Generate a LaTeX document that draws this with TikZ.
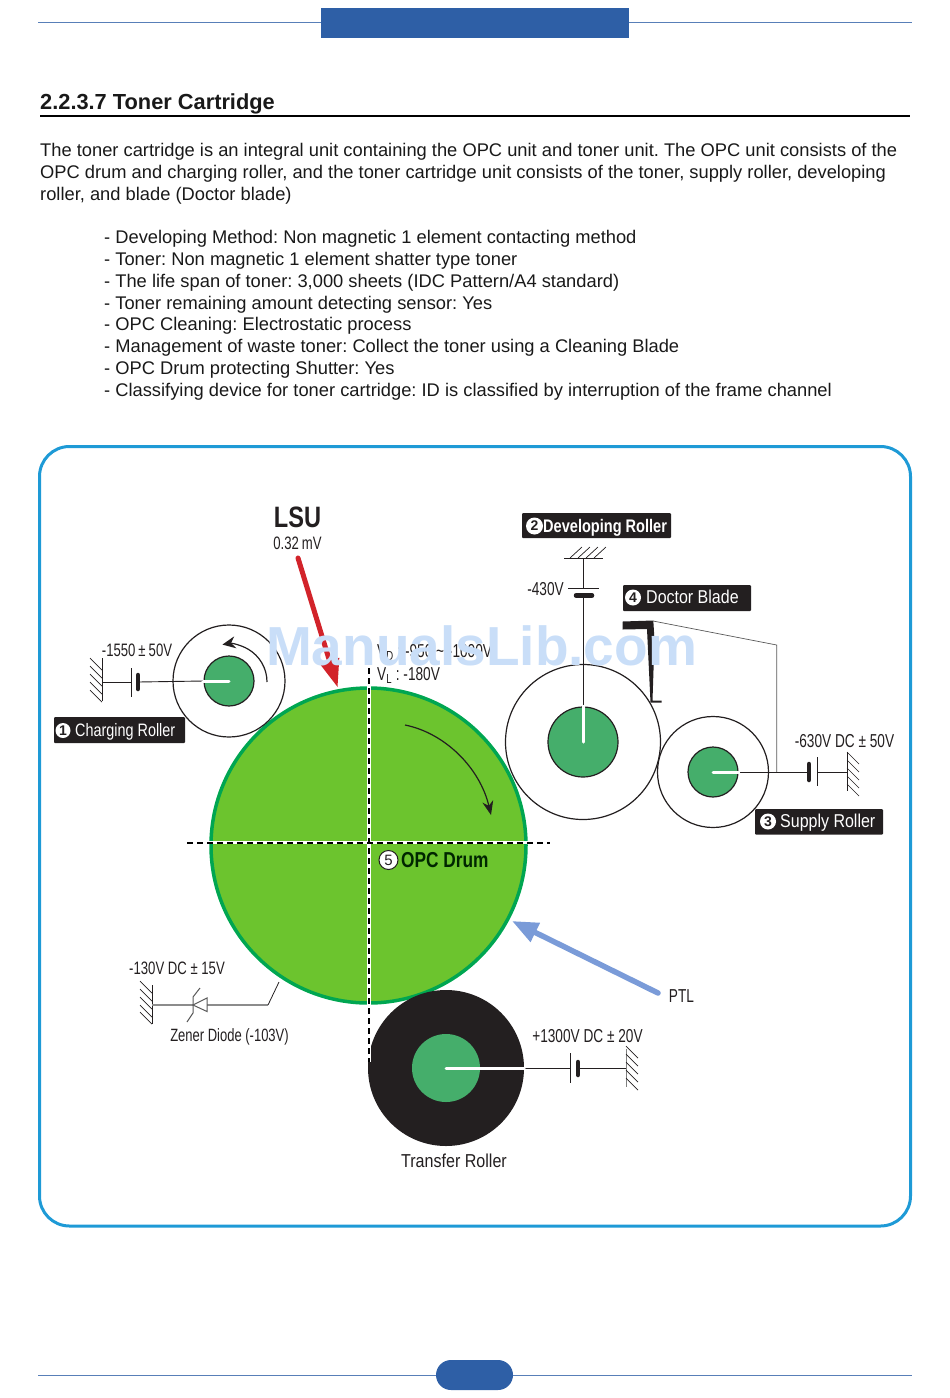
\documentclass[tikz,border=0pt]{standalone}
\usepackage{fontspec}
\setmainfont{Liberation Sans}
\newfontfamily\cond[FakeStretch=0.8]{Liberation Sans}
\newfontfamily\condb[FakeStretch=0.86]{Liberation Sans}
\newfontfamily\condn[FakeStretch=0.73]{Liberation Sans}
\usetikzlibrary{arrows.meta}
\definecolor{hdr}{HTML}{2E5FA6}
\definecolor{frm}{HTML}{1E9AD6}
\definecolor{drumf}{HTML}{6CC42E}
\definecolor{drumo}{HTML}{00A651}
\definecolor{core}{HTML}{45AE6B}
\definecolor{ink}{HTML}{231F20}
\definecolor{ptlc}{HTML}{7A9BD8}
\definecolor{lsuc}{HTML}{D2232A}
\definecolor{wm}{HTML}{C9DEF8}
\newcommand{\fs}[1]{\fontsize{#1}{#1}\selectfont}
\tikzset{
  body/.style={anchor=base west,inner sep=0pt,font=\fs{18.31},text=black!90},
  lab/.style={inner sep=0pt,font=\condn\fs{18.7},text=ink},
  tagtext/.style={anchor=base west,inner sep=0pt,font=\cond\fs{18},text=white},
  num/.style={circle,fill=white,inner sep=0pt,minimum size=#1,font=\fs{14},text=ink},
  roller/.style={circle,draw=ink,line width=1.2pt,fill=white,inner sep=0pt,minimum size=#1},
  corec/.style={circle,draw=ink,line width=1.2pt,fill=core,inner sep=0pt,minimum size=#1},
  wire/.style={draw=ink,line width=.9pt},
  gwire/.style={draw=black!45,line width=1.4pt},
  shaft/.style={draw=white,line width=3pt,line cap=round},
  plate/.style={draw=ink,line width=.9pt},
  thick plate/.style={draw=ink,line width=4.5pt,line cap=round},
  hatch/.style={draw=ink,line width=.7pt},
  dashw/.style={draw=white,line width=3.4pt},
  dashb/.style={draw=black,line width=2pt,dash pattern=on 6pt off 4pt},
}
\begin{document}
\frenchspacing
\begin{tikzpicture}[x=1pt,y=-1pt]
\useasboundingbox (0,0) rectangle (950,1398);
% header and footer
\coordinate (hl) at (38,22.5); \coordinate (hr) at (912,22.5);
\draw[hdr!80,line width=.8pt] (hl) -- (hr);
\fill[hdr] (321,8) rectangle (629,38);
\coordinate (fl) at (38,1375); \coordinate (fr) at (912,1375);
\draw[hdr!80,line width=.8pt] (fl) -- (fr);
\fill[hdr,rounded corners=15pt] (436,1360) rectangle (513,1390);
% title and text
\node[anchor=base west,inner sep=0pt,font=\bfseries\fs{21.8},text=black!90] at (40,109) {2.2.3.7 Toner Cartridge};
\coordinate (tl) at (40,116); \coordinate (tr) at (910,116);
\draw[black,line width=1.6pt] (tl) -- (tr);
\node[body] at (40,156) {The toner cartridge is an integral unit containing the OPC unit and toner unit. The OPC unit consists of the};
\node[body] at (40,178) {OPC drum and charging roller, and the toner cartridge unit consists of the toner, supply roller, developing};
\node[body] at (40,200) {roller, and blade (Doctor blade)};
\node[body] at (104,243) {- Developing Method: Non magnetic 1 element contacting method};
\node[body] at (104,265) {- Toner: Non magnetic 1 element shatter type toner};
\node[body] at (104,287) {- The life span of toner: 3,000 sheets (IDC Pattern/A4 standard)};
\node[body] at (104,309) {- Toner remaining amount detecting sensor: Yes};
\node[body] at (104,330) {- OPC Cleaning: Electrostatic process};
\node[body] at (104,352) {- Management of waste toner: Collect the toner using a Cleaning Blade};
\node[body] at (104,374) {- OPC Drum protecting Shutter: Yes};
\node[body] at (104,396) {- Classifying device for toner cartridge: ID is classified by interruption of the frame channel};
% frame
\draw[frm,line width=3pt,rounded corners=30pt] (39.5,446.5) rectangle (910.5,1226);
% drum
\node[circle,draw=drumo,line width=3.5pt,fill=drumf,inner sep=0pt,minimum size=315pt] (drum) at (368.5,845.5) {};
% charging roller
\node[roller=112pt] (cr) at (229,681) {};
\node[corec=50pt] (crc) at (229,681) {};
\draw[ink,line width=1.2pt,-{Stealth[length=13pt,width=12pt]}] (267,682) arc[start angle=0,end angle=-100,radius=38];
% developing roller
\node[roller=155pt] (dr) at (583,742) {};
\node[corec=70pt] (drc) at (583,742) {};
% supply roller
\node[roller=111pt] (sr) at (713,772) {};
\node[corec=50pt] (src) at (713,772) {};
% transfer roller
\node[circle,fill=ink,inner sep=0pt,minimum size=156pt] (tr2) at (446,1068) {};
\node[circle,fill=core,inner sep=0pt,minimum size=68pt] (trc) at (446,1068) {};
% dashed axes
\coordinate (vt) at (369,648); \coordinate (vb) at (369,1062);
\coordinate (ht) at (187,842.5); \coordinate (hb) at (550,842.5);
\draw[dashw] (vt) -- (vb); \draw[dashw] (ht) -- (hb);
\draw[dashb] (vt) -- (vb); \draw[dashb] (ht) -- (hb);
% rotation arrow
\coordinate (ra) at (405,725); \coordinate (rb) at (491,815);
\draw[ink,line width=1.2pt,-{Stealth[length=14pt,width=11pt]}] (ra) .. controls (445,733) and (480,768) .. (rb);
% charging circuit
\coordinate (cg1) at (102,658); \coordinate (cg2) at (102,701);
\draw[plate] (cg1) -- (cg2);
\foreach \y in {670,678,686,694,702} \draw[hatch] (102,\y) -- (90,\y-12);
\coordinate (cgm) at (102,682); \coordinate (cp) at (131,682); \coordinate (cq) at (138,682);
\draw[wire] (cgm) -- (cp);
\draw[plate] (131,668) -- (131,697);
\draw[thick plate] (138,675) -- (138,689);
\draw[wire] (cq) -- (crc.west);
\draw[shaft] (crc.west) -- (crc.center);
% developing circuit
\coordinate (dg1) at (564,558); \coordinate (dg2) at (603,558); \coordinate (dgm) at (583,558); \coordinate (dp) at (583,588); \coordinate (dq) at (583,595.5);
\draw[plate] (dg1) -- (dg2);
\foreach \x in {570,578,586,594} \draw[hatch] (\x,558) -- (\x+12,547);
\draw[wire] (dgm) -- (dp);
\draw[plate] (568,588) -- (599,588);
\draw[thick plate] (576,595.5) -- (592,595.5);
\draw[wire] (dq) -- (drc.north);
\draw[shaft] (drc.north) -- (drc.center);
% blade and supply circuit
\fill[ink] (622.7,621.5) -- (653.3,620.5) -- (654.5,640) -- (652.5,700.5) -- (661.7,700.5) -- (661.7,702.5) -- (650.5,702.5) -- (647,629) -- (622.7,629.5) -- cycle;
\coordinate (bt) at (653,621); \coordinate (bk) at (776.7,645); \coordinate (bj) at (776.7,772);
\draw[black!65,line width=.7pt] (bt) -- (bk) -- (bj);
\coordinate (sq) at (809,772); \coordinate (sp) at (817,772); \coordinate (sgm) at (847,772);
\draw[wire] (src.east) -- (sq);
\draw[shaft] (src.center) -- (src.east);
\draw[thick plate] (809,764) -- (809,780);
\draw[plate] (817,757) -- (817,786);
\draw[wire] (sp) -- (sgm);
\draw[plate] (847,752) -- (847,791);
\foreach \y in {764,772,780,788,796} \draw[hatch] (847,\y-12) -- (859,\y);
% transfer circuit
\coordinate (tp) at (570,1068); \coordinate (tq) at (578,1068); \coordinate (tgm) at (626,1068);
\draw[wire] (tr2.east) -- (tp);
\draw[shaft] (tr2.center) -- (tr2.east);
\draw[plate] (570,1053) -- (570,1083);
\draw[thick plate] (578,1062) -- (578,1075);
\draw[wire] (tq) -- (tgm);
\draw[draw=black!50,line width=1pt] (626,1049) -- (626,1087);
\foreach \y in {1058,1066,1074,1082,1090} \draw[hatch] (626,\y-12) -- (638,\y);
% zener
\coordinate (zg1) at (152,985); \coordinate (zg2) at (152,1024); \coordinate (zgm) at (152,1005);
\draw[plate] (zg1) -- (zg2);
\foreach \y in {993,1001,1009,1017,1024} \draw[hatch] (152,\y) -- (140,\y-12);
\coordinate (za) at (193,1005); \coordinate (zb) at (207,1005); \coordinate (zk) at (268,1005); \coordinate (ze) at (279,982);
\draw[gwire] (zgm) -- (za);
\draw[gwire] (zb) -- (zk);
\draw[ink,line width=.8pt] (zk) -- (ze);
\draw[black!65,line width=1pt] (207,998) -- (207,1011.5) -- (193,1005) -- cycle;
\draw[black!65,line width=1pt] (187,1022) -- (193,1013) -- (193,997) -- (200,988);
% big arrows
\coordinate (ls) at (298,558); \coordinate (le) at (337.7,687.5);
\draw[lsuc,line width=5pt,line cap=round,-{Triangle[length=28pt,width=19pt]}] (ls) -- (le);
\coordinate (ps) at (658,993); \coordinate (pe) at (512,921);
\draw[ptlc,line width=5.5pt,line cap=round,-{Triangle[length=26pt,width=20pt]}] (ps) -- (pe);
% labels
\node[lab,font=\cond\bfseries\fs{29.5}] (lsu) at (297.5,517) {LSU};
\node[lab,font=\condn\fs{18}] (lsuv) at (297.5,543) {0.32\,mV};
\node[lab,anchor=west] (vd) at (377,652) {V\textsubscript{D} : -950 \textasciitilde{} -1000V};
\node[lab,anchor=west] (vl) at (377,675) {V\textsubscript{L} : -180V};
\node[lab,font=\condn\fs{18}] (c1) at (137,650) {-1550\,±\,50V};
\node[lab] (d1) at (545.5,589) {-430V};
\node[lab] (s1) at (844.5,741) {-630V DC ± 50V};
\node[lab] (t1) at (587.5,1036) {+1300V DC ± 20V};
\node[lab,font=\condn\fs{18}] (z1) at (177,968) {-130V DC ± 15V};
\node[lab,font=\condn\fs{17.8}] (z2) at (229.5,1037) {Zener Diode (-103V)};
\node[lab,font=\condb\fs{18.7}] (tl2) at (454,1161) {Transfer Roller};
\node[lab] (ptl) at (681.5,996) {PTL};
% tags
\fill[ink,rounded corners=1pt] (54,717) rectangle (185,743);
\node[num=15pt] at (63,730.5) {\bfseries 1};
\node[tagtext] at (75,736) {Charging Roller};
\fill[ink,rounded corners=1pt] (522,513) rectangle (671,538);
\node[num=17pt] at (534.5,526) {\bfseries 2};
\node[tagtext,font=\cond\bfseries\fs{18.2}] at (543,532) {Developing Roller};
\fill[ink,rounded corners=1pt] (623,585) rectangle (751,611);
\node[num=16pt] at (633,597.5) {\bfseries 4};
\node[tagtext,font=\condb\fs{18.6}] at (646,603.5) {Doctor Blade};
\fill[ink,rounded corners=1pt] (755,809) rectangle (883,834.5);
\node[num=16pt] at (768,821.5) {\bfseries 3};
\node[tagtext,font=\condb\fs{18.6}] at (780,827.5) {Supply Roller};
% OPC drum label
\node[circle,draw=ink,line width=1pt,fill=white,inner sep=0pt,minimum size=19pt,font=\fs{15},text=ink] (n5) at (388.5,860) {5};
\node[anchor=base west,inner sep=0pt,font=\cond\bfseries\fs{21.6},text=black!85!green] at (401,867) {OPC Drum};
% watermark
\node[anchor=base,inner sep=0pt,font=\bfseries\fs{55},text=wm] at (481.5,665) {ManualsLib.com};
\end{tikzpicture}
\end{document}
